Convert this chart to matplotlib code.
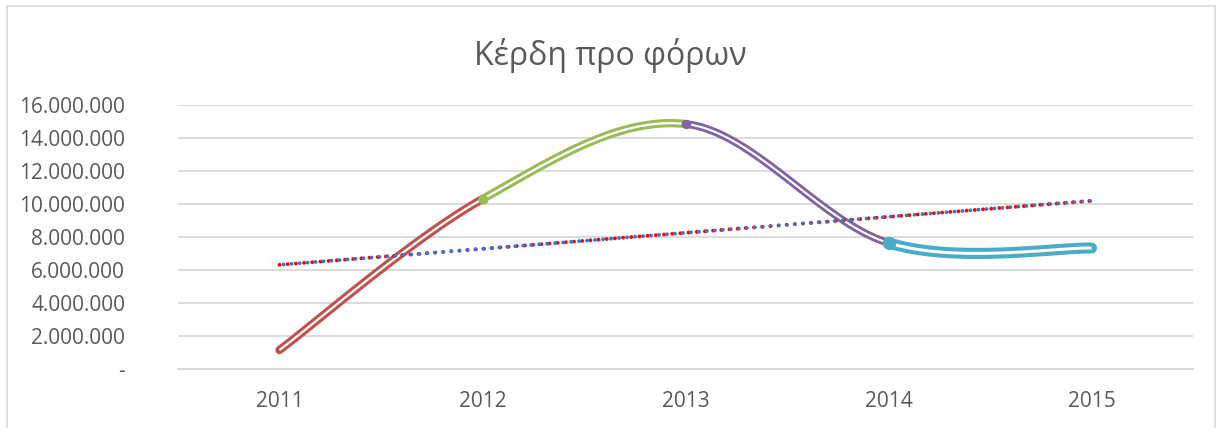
import numpy as np
import matplotlib.pyplot as plt
from matplotlib.patches import Rectangle

plt.rcParams['font.family'] = ['Open Sans', 'DejaVu Sans']

years = ["2011", "2012", "2013", "2014", "2015"]
profit = [1150000, 10300000, 14850000, 7640000, 7330000]
seg_colors = ["#C0504D", "#9BBB59", "#8064A2", "#4BACC6"]
seg_widths = [6.0, 6.0, 5.6, 8.0]
yticks = [0, 2000000, 4000000, 6000000, 8000000, 10000000, 12000000, 14000000, 16000000]
title = "Κέρδη προ φόρων"

txt = "#595959"

fig = plt.figure(figsize=(12.2, 4.28), dpi=100)
fig.patches.append(Rectangle((0.006, -0.01), 0.99, 0.995, transform=fig.transFigure,
                             fill=False, edgecolor="#D9D9D9", linewidth=1.2))
ax = fig.add_axes([0.1459, 0.1379, 0.8320, 0.6168])

x = np.arange(len(years))
y = np.array(profit, dtype=float)
ax.set_xlim(-0.5, len(years) - 0.5)
ax.set_ylim(0, 16000000)
fig.canvas.draw()

# excel-like smoothing, done in pixel space
pts = ax.transData.transform(np.column_stack([x, y]))
n = len(pts)
t = np.linspace(0, 1, 80)[:, None]
for i in range(n - 1):
    p0 = pts[max(i - 1, 0)]
    p1 = pts[i]
    p2 = pts[i + 1]
    p3 = pts[min(i + 2, n - 1)]
    c1 = p1 + (p2 - p0) / 6
    c2 = p2 - (p3 - p1) / 6
    curve = ((1 - t) ** 3) * p1 + 3 * ((1 - t) ** 2) * t * c1 + 3 * (1 - t) * t ** 2 * c2 + t ** 3 * p2
    d = ax.transData.inverted().transform(curve)
    w = seg_widths[i]
    ax.plot(d[:, 0], d[:, 1], color=seg_colors[i], lw=w, solid_capstyle="round", zorder=3 + i)
    ax.plot(d[:, 0], d[:, 1], color="white", lw=w * 0.27, solid_capstyle="butt", zorder=3 + i)
    if i > 0:
        ax.plot(x[i], y[i], "o", color=seg_colors[i], ms=w * 1.2, mew=0, zorder=3 + i)

# linear trend lines (two overlapping, dotted)
k, b = np.polyfit(x, y, 1)
trend = k * x + b
ax.plot(x, trend, color="#FF0000", lw=2.8, linestyle=(0, (0.01, 2.1)),
        dash_capstyle="round", zorder=8)
ax.plot(x, trend, color="#4472C4", lw=2.8, linestyle=(1.0, (0.01, 2.05)),
        dash_capstyle="round", zorder=9)

ax.set_yticks(yticks)
ax.set_yticklabels(["-" if v == 0 else f"{v:,}".replace(",", ".") for v in yticks])
ax.set_xticks(x)
ax.set_xticklabels(years)
ax.tick_params(axis="both", length=0, labelsize=15, colors=txt)
ax.tick_params(axis="y", pad=38)
ax.tick_params(axis="x", pad=16)
ax.grid(axis="y", color="#D9D9D9", linewidth=1.3)
ax.set_axisbelow(True)
for s in ["top", "right", "left"]:
    ax.spines[s].set_visible(False)
ax.spines["bottom"].set_color("#D9D9D9")
ax.spines["bottom"].set_linewidth(1.3)

fig.text(0.5, 0.87, title, ha="center", va="center", fontsize=23, color=txt)

fig.savefig("out.png", dpi=100)
